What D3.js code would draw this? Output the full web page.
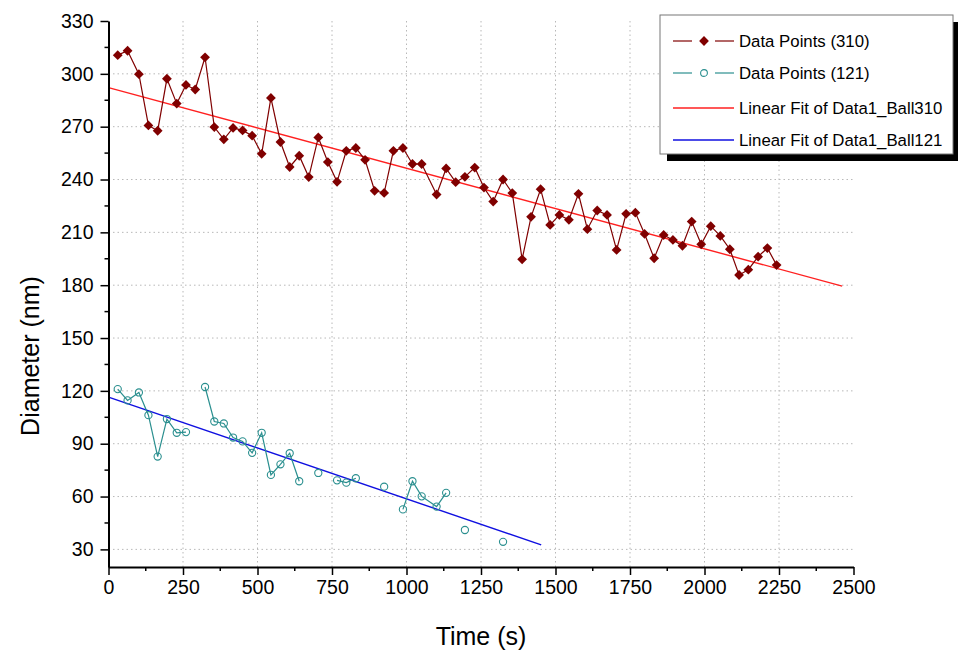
<!DOCTYPE html>
<html>
<head>
<meta charset="utf-8">
<script src="https://cdn.jsdelivr.net/npm/d3@7"></script>
<style>
  body { margin: 0; background: #fff; }
  svg { display: block; font-family: "Liberation Sans", Arial, sans-serif; }
</style>
</head>
<body>
<div id="chart"></div>
<script>
// time (s) of every sample
const time = [31, 64, 102, 134, 165, 196, 229, 260, 291, 324,
              355, 387, 418, 450, 482, 514, 545, 577, 608, 640,
              672, 704, 736, 767, 798, 830, 861, 893, 925, 956,
              988, 1020, 1051, 1101, 1133, 1165, 1196, 1229, 1260, 1291,
              1324, 1355, 1388, 1418, 1450, 1482, 1513, 1545, 1577, 1607,
              1640, 1673, 1705, 1737, 1768, 1799, 1831, 1863, 1894, 1926,
              1957, 1989, 2021, 2053, 2085, 2116, 2147, 2180, 2211, 2242];

// diameter of ball 310 (nm)
const ball310 = [310.6, 313.1, 299.8, 270.7, 267.7, 297.2, 283.1, 293.7, 291.1, 309.4,
                 269.8, 262.8, 269.3, 267.9, 264.9, 254.6, 286.3, 261.3, 247.1, 253.5,
                 241.4, 263.9, 249.9, 238.7, 256.3, 257.9, 251.2, 233.6, 232.4, 256.3,
                 257.9, 248.8, 248.8, 231.5, 246.3, 238.5, 241.5, 246.8, 235.4, 227.5,
                 240.0, 232.3, 194.7, 218.8, 234.5, 214.2, 219.9, 217.1, 231.9, 211.8,
                 222.4, 219.9, 200.0, 220.5, 221.2, 209.1, 195.3, 208.5, 205.7, 202.4,
                 216.1, 203.2, 213.5, 208.0, 200.4, 185.8, 188.8, 196.2, 201.1, 191.4];

// diameter of ball 121 (nm), null = missing sample
const ball121 = [121.0, 114.6, 119.1, 106.2, 82.7, 104.0, 96.2, 96.6, null, 122.2,
                 102.6, 101.5, 93.5, 91.3, 84.8, 96.2, 72.3, 78.3, 84.6, 68.7,
                 null, 73.4, null, 69.2, 67.9, 70.4, null, null, 65.6, null,
                 52.7, 68.7, 60.1, 54.3, 62.1, null, 41.0, null, null, null,
                 34.3];

// linear fits (end points)
const fit310X = [0, 2462];
const fit310Y = [292.2, 179.5];
const fit121X = [0, 1452];
const fit121Y = [116.4, 32.6];

const xTicks = [0, 250, 500, 750, 1000, 1250, 1500, 1750, 2000, 2250, 2500];
const yTicks = [30, 60, 90, 120, 150, 180, 210, 240, 270, 300, 330];

const legendLabels = ["Data Points (310)", "Data Points (121)",
                      "Linear Fit of Data1_Ball310", "Linear Fit of Data1_Ball121"];

const width = 958;
const height = 655;
const margin = { top: 21, right: 104.5, bottom: 88, left: 108.5 };
const innerWidth = width - margin.left - margin.right;
const innerHeight = height - margin.top - margin.bottom;

const c310 = "#800000";
const c121 = "#2a8f8f";
const cFit310 = "#ff2020";
const cFit121 = "#1010e0";

const svg = d3.select("#chart")
    .append("svg")
    .attr("width", width)
    .attr("height", height);

svg.append("rect").attr("width", width).attr("height", height).attr("fill", "#fff");

const chart = svg.append("g")
    .attr("transform", `translate(${margin.left}, ${margin.top})`);

const xScale = d3.scaleLinear().domain([0, 2500]).range([0, innerWidth]);
const yScale = d3.scaleLinear().domain([20, 330]).range([innerHeight, 0]);

// dotted grid
chart.append("g").selectAll("line")
    .data(xTicks.filter(d => d > 0 && d < 2500))
    .enter().append("line")
    .attr("x1", d => xScale(d)).attr("x2", d => xScale(d))
    .attr("y1", 0).attr("y2", innerHeight)
    .attr("stroke", "#b8b8b8").attr("stroke-width", 1)
    .attr("stroke-dasharray", "1.5,3");

chart.append("g").selectAll("line")
    .data(yTicks.filter(d => d < 330))
    .enter().append("line")
    .attr("x1", 0).attr("x2", innerWidth)
    .attr("y1", d => yScale(d)).attr("y2", d => yScale(d))
    .attr("stroke", "#b8b8b8").attr("stroke-width", 1)
    .attr("stroke-dasharray", "1.5,3");

// fit lines
const fitLine = d3.line().x(d => xScale(d[0])).y(d => yScale(d[1]));
chart.append("path")
    .datum(fit310X.map((x, i) => [x, fit310Y[i]]))
    .attr("d", fitLine).attr("fill", "none")
    .attr("stroke", cFit310).attr("stroke-width", 1.4);
chart.append("path")
    .datum(fit121X.map((x, i) => [x, fit121Y[i]]))
    .attr("d", fitLine).attr("fill", "none")
    .attr("stroke", cFit121).attr("stroke-width", 1.4);

// data
const data310 = time.map((t, i) => ({ t: t, v: ball310[i] }));
const data121 = ball121.map((v, i) => ({ t: time[i], v: v }));

const dataLine = d3.line()
    .defined(d => d.v != null)
    .x(d => xScale(d.t))
    .y(d => yScale(d.v));

chart.append("path").datum(data310)
    .attr("d", dataLine).attr("fill", "none")
    .attr("stroke", c310).attr("stroke-width", 1.2);

chart.append("path").datum(data121)
    .attr("d", dataLine).attr("fill", "none")
    .attr("stroke", c121).attr("stroke-width", 1.2);

const diamond = d3.symbol(d3.symbolSquare, 48);

chart.selectAll(".d310")
    .data(data310)
    .enter().append("path")
    .attr("class", "d310")
    .attr("d", diamond)
    .attr("transform", d => `translate(${xScale(d.t)}, ${yScale(d.v)}) rotate(45)`)
    .attr("fill", c310);

chart.selectAll(".d121")
    .data(data121.filter(d => d.v != null))
    .enter().append("circle")
    .attr("class", "d121")
    .attr("cx", d => xScale(d.t))
    .attr("cy", d => yScale(d.v))
    .attr("r", 3.6)
    .attr("fill", "none")
    .attr("stroke", c121)
    .attr("stroke-width", 1.1);

// axes
const xAxis = d3.axisBottom(xScale)
    .tickValues(xTicks)
    .tickFormat(d3.format("d"))
    .tickSize(8).tickSizeOuter(0).tickPadding(5);
const yAxis = d3.axisLeft(yScale)
    .tickValues(yTicks)
    .tickFormat(d3.format("d"))
    .tickSize(8).tickSizeOuter(0).tickPadding(7);

const xMinor = d3.range(125, 2500, 250);
const yMinor = d3.range(45, 330, 30);

chart.append("g")
    .attr("transform", `translate(0, ${innerHeight})`)
    .selectAll("line")
    .data(xMinor)
    .enter().append("line")
    .attr("x1", d => xScale(d)).attr("x2", d => xScale(d))
    .attr("y1", 0).attr("y2", 4)
    .attr("stroke", "#000").attr("stroke-width", 1.5);

chart.append("g")
    .selectAll("line")
    .data(yMinor)
    .enter().append("line")
    .attr("x1", -4).attr("x2", 0)
    .attr("y1", d => yScale(d)).attr("y2", d => yScale(d))
    .attr("stroke", "#000").attr("stroke-width", 1.5);

const gx = chart.append("g")
    .attr("class", "x axis")
    .attr("transform", `translate(0, ${innerHeight})`)
    .call(xAxis);

const gy = chart.append("g")
    .attr("class", "y axis")
    .call(yAxis);

[gx, gy].forEach(g => {
    g.select(".domain").attr("stroke", "#000").attr("stroke-width", 2);
    g.selectAll(".tick line").attr("stroke", "#000").attr("stroke-width", 1.5);
    g.selectAll(".tick text")
        .attr("fill", "#000")
        .style("font-family", "'Liberation Sans', Arial, sans-serif")
        .style("font-size", "19.5px");
});

// axis titles
svg.append("text")
    .attr("x", margin.left + innerWidth / 2)
    .attr("y", 645)
    .attr("text-anchor", "middle")
    .style("font-size", "25px")
    .text("Time (s)");

svg.append("text")
    .attr("transform", "translate(39, 356) rotate(-90)")
    .attr("text-anchor", "middle")
    .style("font-size", "25px")
    .text("Diameter (nm)");

// legend
const legend = svg.append("g").attr("transform", "translate(660, 15)");

legend.append("rect")
    .attr("x", 7).attr("y", 7)
    .attr("width", 293).attr("height", 139)
    .attr("fill", "#000");

legend.append("rect")
    .attr("x", 0).attr("y", 0)
    .attr("width", 293).attr("height", 139)
    .attr("fill", "#fff")
    .attr("stroke", "#777").attr("stroke-width", 1);

const rowY = [26, 58, 93, 125];
const rowColor = [c310, c121, cFit310, cFit121];

const rows = legend.selectAll(".legend")
    .data(legendLabels)
    .enter().append("g")
    .attr("class", "legend")
    .attr("transform", (d, i) => `translate(0, ${rowY[i]})`);

rows.each(function(d, i) {
    const row = d3.select(this);
    if (i < 2) {
        row.append("line").attr("x1", 13).attr("x2", 32).attr("y1", 0).attr("y2", 0)
            .attr("stroke", rowColor[i]).attr("stroke-width", 1.2);
        row.append("line").attr("x1", 55).attr("x2", 74).attr("y1", 0).attr("y2", 0)
            .attr("stroke", rowColor[i]).attr("stroke-width", 1.2);
    } else {
        row.append("line").attr("x1", 13).attr("x2", 74).attr("y1", 0).attr("y2", 0)
            .attr("stroke", rowColor[i]).attr("stroke-width", 1.4);
    }
});

rows.filter((d, i) => i === 0).append("path")
    .attr("d", diamond)
    .attr("transform", "translate(44, 0) rotate(45)")
    .attr("fill", c310);

rows.filter((d, i) => i === 1).append("circle")
    .attr("cx", 44).attr("cy", 0).attr("r", 3.4)
    .attr("fill", "none").attr("stroke", c121).attr("stroke-width", 1.1);

rows.append("text")
    .attr("x", 79)
    .attr("y", 0)
    .attr("dy", ".35em")
    .style("font-size", "16.8px")
    .style("text-anchor", "start")
    .text(d => d);
</script>
</body>
</html>
